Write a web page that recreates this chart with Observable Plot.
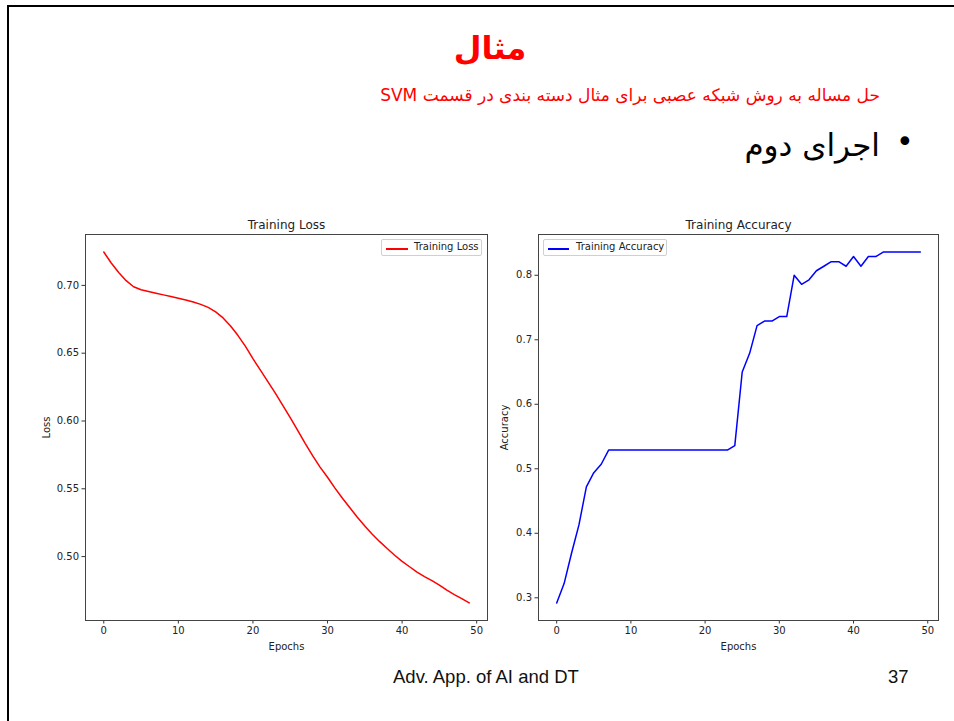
<!DOCTYPE html>
<html>
<head>
<meta charset="utf-8">
<script src="https://cdn.jsdelivr.net/npm/d3@7"></script>
<script src="https://cdn.jsdelivr.net/npm/@observablehq/plot@0.6"></script>
<style>
  html, body { margin: 0; padding: 0; background: #fff; }
  #page { position: relative; width: 954px; height: 721px; overflow: hidden; background: #fff; }
  .abs { position: absolute; }
  #border { left: 7px; top: 5px; width: 960px; height: 730px; border-top: 2px solid #000; border-left: 2px solid #000; }
  .fa { font-family: "DejaVu Sans", sans-serif; white-space: nowrap; direction: rtl; }
  .legend { position: absolute; height: 17px; border: 1px solid #d0d0d0; border-radius: 2px; background: rgba(255,255,255,0.8); box-sizing: border-box; }
  .legend .ln { position: absolute; top: 8px; height: 1.5px; }
  .legend .tx { position: absolute; top: 1px; font: 10px "DejaVu Sans", sans-serif; color: #222; white-space: nowrap; }
  .footer { font-family: "Liberation Sans", Arial, sans-serif; color: #111; white-space: nowrap; }
</style>
</head>
<body>
<div id="page">
  <div id="border" class="abs"></div>
  <div id="title" class="abs fa" style="left:0;width:980px;top:29px;text-align:center;font-size:32px;font-weight:bold;color:#ff0000;">مثال</div>
  <div id="subtitle" class="abs fa" style="right:74px;top:85px;font-size:17px;color:#ff0000;">حل مساله به روش شبکه عصبی برای مثال دسته بندی در قسمت SVM</div>
  <div class="abs" style="left:896px;top:124px;font-size:30px;color:#000;font-family:'DejaVu Sans';">•</div>
  <div id="bullet" class="abs fa" style="right:74px;top:127px;font-size:31px;color:#000;">اجرای دوم</div>
  <div id="left" class="abs" style="left:0;top:210px;"></div>
  <div id="right" class="abs" style="left:490px;top:210px;"></div>
  <div class="legend" style="left:381px;top:239px;width:101px;">
    <div class="ln" style="left:4px;width:22px;background:#ff0000;"></div>
    <div class="tx" style="left:32px;">Training Loss</div>
  </div>
  <div class="legend" style="left:543px;top:239px;width:124px;">
    <div class="ln" style="left:4px;width:21px;background:#0000ff;"></div>
    <div class="tx" style="left:32px;">Training Accuracy</div>
  </div>
  <div class="abs footer" style="left:393px;top:666px;font-size:18.5px;">Adv. App. of AI and DT</div>
  <div class="abs footer" style="left:888px;top:666px;font-size:18.5px;">37</div>
</div>
<script>
// ---- data ----
const lossValues = [
  0.7246, 0.7165, 0.7095, 0.7035, 0.6990, 0.6968, 0.6955, 0.6942, 0.6930, 0.6918,
  0.6905, 0.6893, 0.6878, 0.6860, 0.6838, 0.6805, 0.6760, 0.6700, 0.6630, 0.6550,
  0.6460, 0.6375, 0.6290, 0.6205, 0.6115, 0.6025, 0.5930, 0.5835, 0.5745, 0.5660,
  0.5585, 0.5505, 0.5430, 0.5360, 0.5290, 0.5225, 0.5165, 0.5110, 0.5060, 0.5010,
  0.4965, 0.4925, 0.4885, 0.4852, 0.4823, 0.4790, 0.4752, 0.4720, 0.4690, 0.4658
];
const accValues = [
  0.292, 0.322, 0.369, 0.413, 0.472, 0.494, 0.507, 0.529, 0.529, 0.529,
  0.529, 0.529, 0.529, 0.529, 0.529, 0.529, 0.529, 0.529, 0.529, 0.529,
  0.529, 0.529, 0.529, 0.529, 0.536, 0.650, 0.679, 0.722, 0.729, 0.729,
  0.736, 0.736, 0.800, 0.786, 0.793, 0.807, 0.814, 0.821, 0.821, 0.814,
  0.829, 0.814, 0.829, 0.829, 0.836, 0.836, 0.836, 0.836, 0.836, 0.836
];
const xTicks = [0, 10, 20, 30, 40, 50];
const lossTicks = [0.50, 0.55, 0.60, 0.65, 0.70];
const accTicks = [0.3, 0.4, 0.5, 0.6, 0.7, 0.8];
const lossTitle = "Training Loss";
const accTitle = "Training Accuracy";

const lossData = lossValues.map((v, i) => ({epoch: i, value: v}));
const accData = accValues.map((v, i) => ({epoch: i, value: v}));

function pad(vals) {
  const lo = d3.min(vals), hi = d3.max(vals), m = (hi - lo) * 0.05;
  return [lo - m, hi + m];
}

function chart({data, width, marginLeft, marginRight, yDomain, yTicks, yFormat, yLabel, yLabelOffset, title, color}) {
  return Plot.plot({
    width, height: 445,
    marginLeft, marginRight, marginTop: 24, marginBottom: 35,
    style: {fontFamily: "DejaVu Sans, sans-serif", fontSize: "10px", color: "#222", background: "transparent", overflow: "visible"},
    x: {domain: pad([0, data.length - 1])},
    y: {domain: yDomain},
    marks: [
      Plot.axisX({ticks: xTicks, tickSize: 3.5, tickPadding: 3, stroke: "#333", label: "Epochs", labelAnchor: "center", labelArrow: "none", labelOffset: 29}),
      Plot.axisY({ticks: yTicks, tickFormat: yFormat, tickSize: 3.5, tickPadding: 3, stroke: "#333", label: yLabel, labelAnchor: "center", labelArrow: "none", labelOffset: yLabelOffset}),
      Plot.line(data, {x: "epoch", y: "value", stroke: color, strokeWidth: 1.5}),
      Plot.frame({stroke: "#444", strokeWidth: 1}),
      Plot.text([title], {frameAnchor: "top", lineAnchor: "bottom", dy: -6, fontSize: 12, fill: "#222"})
    ]
  });
}

document.getElementById("left").appendChild(chart({
  data: lossData, width: 490, marginLeft: 85, marginRight: 3,
  yDomain: pad(lossValues), yTicks: lossTicks, yFormat: ".2f",
  yLabel: "Loss", yLabelOffset: 43, title: lossTitle, color: "#ff0000"
}));
document.getElementById("right").appendChild(chart({
  data: accData, width: 454, marginLeft: 48, marginRight: 6,
  yDomain: pad(accValues), yTicks: accTicks, yFormat: ".1f",
  yLabel: "Accuracy", yLabelOffset: 38, title: accTitle, color: "#0000ff"
}));
</script>
</body>
</html>
